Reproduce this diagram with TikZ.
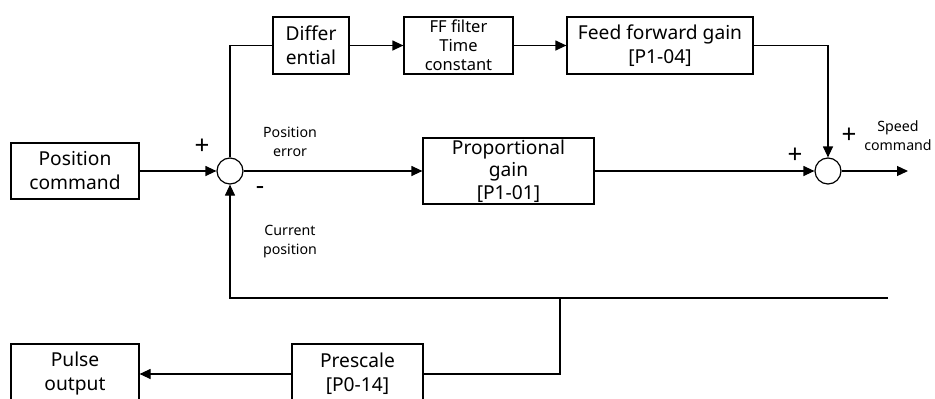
\documentclass[tikz,border=0pt]{standalone}
\usepackage{fontspec}
\setmainfont{Noto Sans}
\usetikzlibrary{arrows.meta}
\newcommand{\bigfont}{\fontsize{19.2}{24}\selectfont}
\newcommand{\pgfont}{\fontsize{19.2}{22.5}\selectfont}
\newcommand{\smallfont}{\fontsize{14.2}{19}\selectfont}
\newcommand{\fffont}{\fontsize{16.5}{19}\selectfont}
\newcommand{\signfont}{\fontsize{26}{26}\selectfont}
\tikzset{
  blk/.style={draw, line width=1.2pt, inner sep=0pt, align=center, font=\bigfont},
  sumnode/.style={draw, circle, line width=1.2pt, minimum size=26pt, inner sep=0pt},
  wire/.style={line width=1.2pt},
  arr/.style={wire, -{Triangle[length=11pt,width=10pt]}},
  lbl/.style={align=center, font=\smallfont, inner sep=0pt},
  sgn/.style={font=\signfont, inner sep=0pt}
}
\begin{document}
\begin{tikzpicture}[x=1pt,y=-1pt]
\useasboundingbox (0,0) rectangle (935,399);
% blocks
\node[blk, minimum width=128pt, minimum height=56pt] (pc) at (75,171) {Position\\command};
\node[blk, minimum width=76pt, minimum height=57pt] (diff) at (311,45.5) {Differ\\ential};
\node[blk, minimum width=109pt, minimum height=57pt, font=\fffont] (ff) at (458.5,45.5) {FF filter\\Time\\constant};
\node[blk, minimum width=186pt, minimum height=57pt] (ffg) at (660,45.5) {Feed forward gain\\{[P1-04]}};
\node[blk, minimum width=171pt, minimum height=66pt, font=\pgfont] (pg) at (508.5,171) {Proportional\\gain\\{[P1-01]}};
\node[blk, minimum width=131pt, minimum height=60pt] (pre) at (357.5,374) {Prescale\\{[P0-14]}};
\node[blk, minimum width=128pt, minimum height=60pt] (po) at (75,374) {Pulse\\output};
% summing junctions
\node[sumnode] (s1) at (230,171) {};
\node[sumnode] (s2) at (828,171) {};
% free ends
\coordinate (out) at (908,171);
\coordinate (fbR) at (888,298);
\coordinate (fbL) at (230,298);
\coordinate (fbJ) at (560,298);
% connectors
\draw[arr] (pc) -- (s1);
\draw[wire] (s1.north) |- (diff.west);
\draw[arr] (diff) -- (ff);
\draw[arr] (ff) -- (ffg);
\draw[arr] (ffg.east) -| (s2.north);
\draw[arr] (s1) -- (pg);
\draw[arr] (pg) -- (s2);
\draw[arr] (s2.east) -- (out);
\draw[arr] (fbR) -- (fbL) -- (s1.south);
\draw[wire] (fbJ) |- (pre.east);
\draw[arr] (pre) -- (po);
% labels
\node[sgn] (p1) at (202,147) {+};
\node[sgn] (m1) at (260,191) {-};
\node[sgn] (p2) at (795,156) {+};
\node[sgn] (p3) at (849,136) {+};
\node[lbl] (perr) at (290,142) {Position\\error};
\node[lbl] (cpos) at (290,242) {Current\\position};
\node[lbl] (spd) at (898,136) {Speed\\command};
\end{tikzpicture}
\end{document}
